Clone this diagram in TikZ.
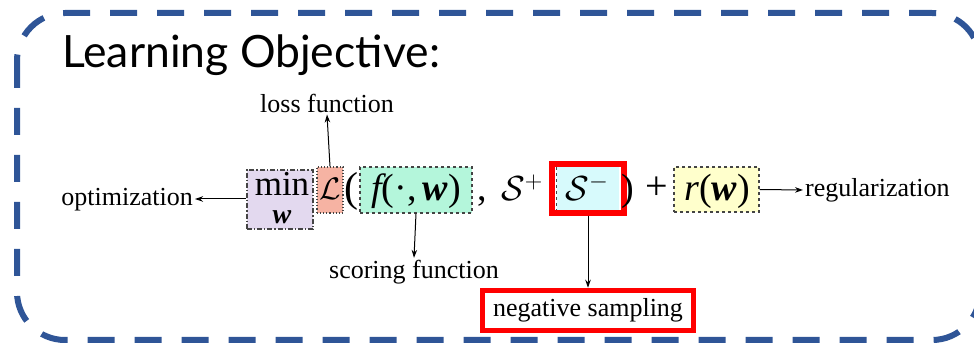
\documentclass[tikz,border=0pt]{standalone}
\usepackage{amsmath}
\usepackage{graphicx}
\usepackage{fontspec}
\setmainfont{Liberation Serif}
\newfontfamily\titlefont{Lato}
\usetikzlibrary{arrows.meta}
\definecolor{frameblue}{HTML}{2F5597}
\definecolor{minfill}{HTML}{E3D9EF}
\definecolor{lossfill}{HTML}{F6B3A3}
\definecolor{scorefill}{HTML}{B4F6DB}
\definecolor{negfill}{HTML}{D7FAFC}
\definecolor{regfill}{HTML}{FFFFCC}
\definecolor{boxline}{HTML}{444444}
\newcommand\bwv{{\bfseries\itshape w}}
\newcommand\fsz[1]{\fontsize{#1}{#1}\selectfont}
\tikzset{
  lbl/.style={font=\fsz{26}, inner sep=2pt},
  mth/.style={inner sep=0pt, anchor=base},
  termbox/.style={draw=boxline, line width=1.1pt, inner sep=0pt},
  conn/.style={line width=1pt, -{Stealth[length=8pt,width=5.5pt]}},
  redbox/.style={draw=red, line width=5.5pt, inner sep=0pt}
}
\begin{document}
\begin{tikzpicture}[x=1pt,y=-1pt]
\useasboundingbox (0,0) rectangle (974,344);
% frame
\draw[frameblue, line width=6pt, dash pattern=on 27pt off 20pt, rounded corners=48pt]
  (17,13) rectangle (980,340);
% title
\node[anchor=base west, inner sep=0pt, font=\titlefont\fsz{44.5}] (title) at (62,68) {Learning Objective:};

% terms
\node[termbox, dash pattern=on 5pt off 2pt on 1.2pt off 2pt, fill=minfill, minimum width=66pt, minimum height=59pt] (minbox) at (280,199.5) {};
\node[mth, font=\fsz{35}] (minterm) at (282,196) {min};
\node[mth, font=\fsz{28}] (minsub) at (282,224) {\bwv};
\node[termbox, dotted, fill=lossfill, minimum width=26pt, minimum height=46pt] (lossbox) at (330,190) {};
\node[mth, font=\fsz{24}] (lossterm) at (330,200) {\scalebox{1.25}{$\mathcal{L}$}};
\node[mth, font=\fsz{42}] (lpar) at (351,202) {(};
\node[termbox, dashed, fill=scorefill, minimum width=112pt, minimum height=46pt] (scoreb) at (416,190) {};
\node[mth, font=\fsz{38}] (scoreterm) at (416,201) {\itshape f\upshape(·,\,\bwv)};
\node[mth, font=\fsz{38}] (comma) at (482,201) {,};
\node[mth, font=\fsz{24}] (splus) at (522,201) {\scalebox{1.4}{$\mathcal{S}^+$}};
\node[fill=negfill, minimum width=62pt, minimum height=44pt, inner sep=0pt] (negbox) at (588,189) {};
\draw[boxline, line width=1.1pt, dashed] (negbox.north west) -- (negbox.south west);
\node[mth, font=\fsz{24}] (sminus) at (587,201) {\scalebox{1.4}{$\mathcal{S}^-$}};
\node[redbox, minimum width=72pt, minimum height=49pt] (negred) at (588,188.5) {};
\node[mth, font=\fsz{38}] (rpar) at (628,201) {)};
\node[mth, font=\fsz{40}] (plus) at (657,200) {+};
\node[termbox, dashed, fill=regfill, minimum width=85pt, minimum height=45pt] (regbox) at (716.5,189.5) {};
\node[mth, font=\fsz{38}] (regterm) at (717,201) {\itshape r\upshape(\bwv)};

% labels
\node[lbl] (losslbl) at (327,103) {loss function};
\node[lbl, anchor=east] (optlbl) at (195,200) {optimization};
\node[lbl] (scorelbl) at (414,272) {scoring function};
\node[lbl, anchor=west] (reglbl) at (803,190) {regularization};
\node[lbl, draw=red, line width=5.5pt, inner sep=4pt, minimum width=211pt, minimum height=40pt] (neglbl) at (588,310.5) {negative sampling};

% connectors
\draw[conn] (lossbox.north) -- (losslbl.south);
\draw[conn] (minbox.west |- 0,199) -- (optlbl.east |- 0,199);
\draw[conn] (scoreb.south) -- (scorelbl.north);
\draw[conn] (negred.south) -- (neglbl.north);
\draw[conn] (regbox.east) -- (reglbl.west);
\end{tikzpicture}
\end{document}
